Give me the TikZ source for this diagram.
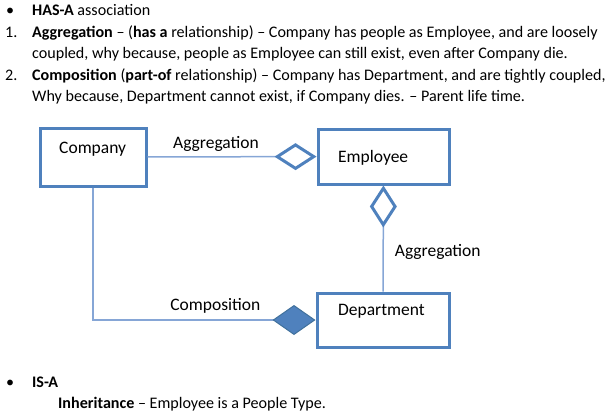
\documentclass[tikz,border=0pt]{standalone}
\usepackage{fontspec}
\setmainfont{Carlito}
\usetikzlibrary{arrows.meta}
\definecolor{umlblue}{HTML}{4F81BD}
\definecolor{linkblue}{HTML}{86A6D6}
\definecolor{darkblue}{HTML}{41719C}
\tikzset{
  classbox/.style={draw=umlblue, line width=3pt, rectangle},
  classname/.style={anchor=base west, inner sep=0pt, font=\fontsize{17.5}{20}\selectfont},
  txtline/.style={anchor=base west, inner sep=0pt, font=\fontsize{16.1}{19}\selectfont},
  link/.style={draw=linkblue, line width=1.5pt},
  aggr/.style={link, -{Diamond[open, length=42pt, width=27pt, line width=3pt, color=umlblue]}},
  compo/.style={link, -{Diamond[length=43pt, width=30pt, line width=1pt, color=darkblue, fill=umlblue]}},
  rel/.style={font=\fontsize{17.5}{20}\selectfont, inner sep=0pt},
}

\begin{document}
\begin{tikzpicture}[x=1pt, y=-1pt]
  \useasboundingbox (0,0) rectangle (614,416);
  % notes above the diagram
  \node[txtline] (b1) at (6,15.5) {\textbullet};
  \node[txtline] (hasa) at (32,15.5) {\textbf{HAS-A} association};
  \node[txtline] (n1) at (5,37) {1.};
  \node[txtline] (agg1) at (32,37) {\textbf{Aggregation} -- (\textbf{has a} relationship) -- Company has people as Employee, and are loosely};
  \node[txtline] (agg2) at (32,58.5) {coupled, why because, people as Employee can still exist, even after Company die.};
  \node[txtline] (n2) at (5,80) {2.};
  \node[txtline] (com1) at (32,80) {\textbf{Composition} (\textbf{part-of} relationship) -- Company has Department, and are tightly coupled,};
  \node[txtline] (com2) at (32,101.5) {Why because, Department cannot exist, if Company dies. -- Parent life time.};

  % classes
  \node[classbox, minimum width=106pt, minimum height=58pt] (company) at (93,157) {};
  \node[classbox, minimum width=131pt, minimum height=55pt] (employee) at (383.5,156.5) {};
  \node[classbox, minimum width=132pt, minimum height=54pt] (department) at (383,320) {};
  \node[classname] (companyname) at (59,153) {Company};
  \node[classname] (employeename) at (338,162) {Employee};
  \node[classname] (departmentname) at (338,315) {Department};

  % relations
  \draw[aggr] (company) -- node[rel, pos=0.405, above=5pt] (aggtop) {Aggregation} (employee);
  \draw[aggr] (department) -- node[rel, pos=0.37, right=11pt] (aggright) {Aggregation} (employee);
  \draw[compo] (company) |- node[rel, pos=0.775, above=6pt] (complabel) {Composition} (department);

  % notes below the diagram
  \node[txtline] (b2) at (6,387) {\textbullet};
  \node[txtline] (isa) at (32,387) {\textbf{IS-A}};
  \node[txtline] (inh) at (58,408) {\textbf{Inheritance} -- Employee is a People Type.};
\end{tikzpicture}
\end{document}
